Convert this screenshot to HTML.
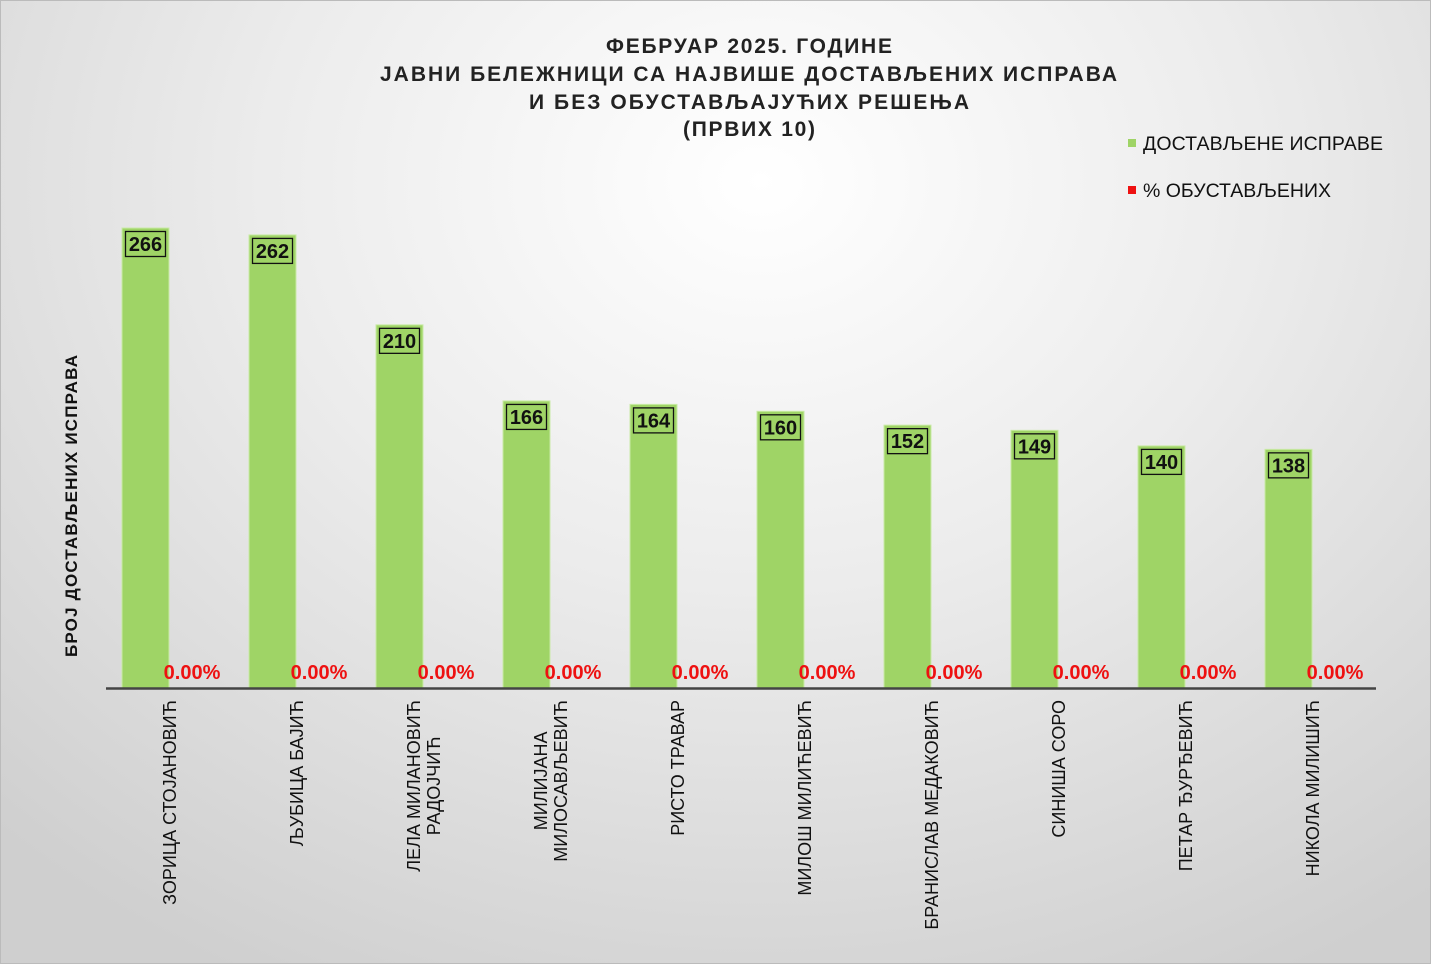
<!DOCTYPE html>
<html><head><meta charset="utf-8"><style>
body{margin:0;width:1431px;height:964px;overflow:hidden;font-family:"Liberation Sans",sans-serif;}
#bg{position:absolute;left:0;top:0;width:1429px;height:962px;border:1px solid #bbb;background:radial-gradient(ellipse 1100px 900px at 760px 180px,#ffffff 0%,#ececec 45%,#cfcfcf 100%);}
svg{position:absolute;left:0;top:0}
</style></head><body>
<div id="bg"></div>
<svg id="c" width="1431" height="964">
<g font-weight="bold" font-size="21" fill="#222" lengthAdjust="spacing">
<text x="606" y="53" textLength="286" lengthAdjust="spacing">ФЕБРУАР 2025. ГОДИНЕ</text>
<text x="380" y="81" textLength="737" lengthAdjust="spacing">ЈАВНИ БЕЛЕЖНИЦИ СА НАЈВИШЕ ДОСТАВЉЕНИХ ИСПРАВА</text>
<text x="529" y="109" textLength="440" lengthAdjust="spacing">И БЕЗ ОБУСТАВЉАЈУЋИХ РЕШЕЊА</text>
<text x="683" y="136" textLength="132" lengthAdjust="spacing">(ПРВИХ 10)</text>
</g>
<g font-size="19.5" fill="#111">
<rect x="1128" y="139" width="8" height="8" fill="#9fd466"/>
<text x="1143" y="150" textLength="240" lengthAdjust="spacing">ДОСТАВЉЕНЕ ИСПРАВЕ</text>
<rect x="1128" y="186" width="8" height="8" fill="#ee1111"/>
<text x="1143" y="197" textLength="188" lengthAdjust="spacing">% ОБУСТАВЉЕНИХ</text>
</g>
<text transform="translate(77,657) rotate(-90)" textLength="302" lengthAdjust="spacing" font-size="17" font-weight="bold" fill="#111">БРОЈ ДОСТАВЉЕНИХ ИСПРАВА</text>
<g id="bars"></g>
<line x1="106" y1="688.5" x2="1376" y2="688.5" stroke="#444" stroke-width="2.5"/>
</svg>
<script>
const categories=[["ЗОРИЦА СТОЈАНОВИЋ"],["ЉУБИЦА БАЈИЋ"],["ЛЕЛА МИЛАНОВИЋ","РАДОЈЧИЋ"],["МИЛИЈАНА","МИЛОСАВЉЕВИЋ"],["РИСТО ТРАВАР"],["МИЛОШ МИЛИЋЕВИЋ"],["БРАНИСЛАВ МЕДАКОВИЋ"],["СИНИША СОРО"],["ПЕТАР ЂУРЂЕВИЋ"],["НИКОЛА МИЛИШИЋ"]];
const documents=[266,262,210,166,164,160,152,149,140,138];
const percentSuspended=[0,0,0,0,0,0,0,0,0,0];
const NS="http://www.w3.org/2000/svg";
const g=document.getElementById('bars');
const x0=106,band=127,base=688,scale=460/266;
const xs=i=>x0+band*i;
const ys=v=>base-v*scale;
function mk(t,a){const e=document.createElementNS(NS,t);for(const k in a)e.setAttribute(k,a[k]);g.appendChild(e);return e;}
documents.forEach((v,i)=>{
 const bx=xs(i)+16,by=ys(v);
 const r=mk('rect',{x:bx,y:by,width:47,height:base-by,fill:'#9fd466',stroke:'#c9eaa6','stroke-width':1});
 
 
 const b=mk('rect',{x:bx+3.5,y:by+3.5,width:40,height:25,fill:'none',stroke:'#111','stroke-width':1.3});
 
 
 const t=mk('text',{x:bx+23.5,y:by+23,'text-anchor':'middle','font-size':20,'font-weight':'bold',fill:'#111'});
 t.textContent=v;
 
 
 const p=mk('text',{x:xs(i)+86,y:base-9,'text-anchor':'middle','font-size':20,'font-weight':'bold',fill:'#ee1111'});
 p.textContent=percentSuspended[i].toFixed(2)+'%';
 
 
 const lines=categories[i];
 const cx=xs(i)+64;
 const els=lines.map((ln,j)=>{
  const off=(j-(lines.length-1)/2)*20;
  const l=mk('text',{transform:`translate(${cx+off+6},700) rotate(-90)`,'text-anchor':'middle','font-size':18,fill:'#111'});
  l.textContent=ln;
  
  
  l._x=cx+off+6;
  return l;
 });
 const W=Math.max(...els.map(e=>e.getComputedTextLength()));
 els.forEach(e=>e.setAttribute('transform',`translate(${e._x},${700+W/2}) rotate(-90)`));
});
</script>
</body></html>
